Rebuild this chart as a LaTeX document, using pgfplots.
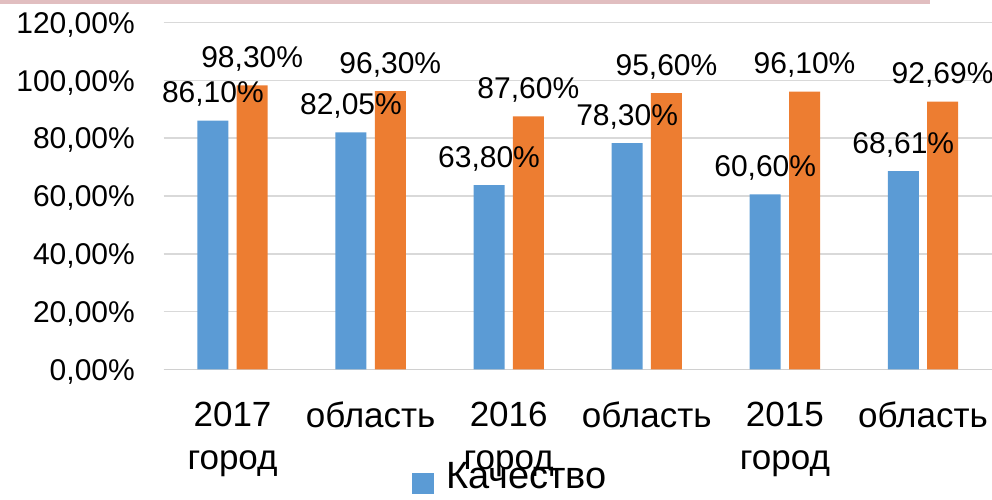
\documentclass[border=0pt]{standalone}
\usepackage{fontspec}
\setmainfont{Liberation Sans}
\usepackage{pgfplots}
\pgfplotsset{compat=1.18}
\definecolor{barblue}{RGB}{91,155,213}
\definecolor{barorange}{RGB}{237,125,49}
\definecolor{topbar}{RGB}{225,190,192}
\definecolor{gridgray}{RGB}{217,217,217}
\definecolor{axisgray}{RGB}{208,208,208}
\begin{document}
\begin{tikzpicture}
\path[use as bounding box] (0,0) rectangle (992bp,500bp);
\fill[topbar] (0,496bp) rectangle (930bp,500bp);
\begin{axis}[
  at={(163.5bp,130.7bp)}, anchor=south west,
  scale only axis, width=828.5bp, height=346.6bp,
  ybar=8.3bp, bar width=31bp,
  xmin=-0.5, xmax=5.5, ymin=0, ymax=120,
  xtick={0,1,2,3,4,5},
  xticklabels={{2017\\город},{область},{2016\\город},{область},{2015\\город},{область}},
  ytick={0,20,40,60,80,100,120},
  yticklabels={{0,00\%},{20,00\%},{40,00\%},{60,00\%},{80,00\%},{100,00\%},{120,00\%}},
  axis x line*=bottom, axis y line*=left,
  x axis line style={-, draw=axisgray, line width=1.5bp},
  y axis line style={draw=none},
  ymajorgrids, major grid style={draw=gridgray, line width=1.5bp},
  major tick length=0pt, tick style={draw=none},
  xticklabel style={font=\fontsize{35bp}{43bp}\selectfont, align=center, anchor=north, inner sep=0pt, yshift=-32.7bp},
  yticklabel style={font=\fontsize{30bp}{36bp}\selectfont, anchor=base east, inner sep=0pt, xshift=-28.5bp, yshift=-10.7bp},
  clip=false,
  nodes near coords={\pgfmathprintnumber[fixed,fixed zerofill,precision=2,use comma,assume math mode=true]{\pgfplotspointmeta}\%},
  every node near coord/.append style={font=\fontsize{30bp}{36bp}\selectfont, anchor=base, inner sep=0pt, yshift=18bp, text=black},
  legend style={at={(0.2999,-0.3107)}, anchor=west, draw=none, fill=none, inner sep=0pt, column sep=10bp, font=\fontsize{38bp}{42bp}\selectfont},
  legend image code/.code={\fill[barblue] (0bp,-17.5bp) rectangle (22bp,3.5bp);},
]
\addplot[fill=barblue, draw=none] coordinates {(0,86.10) (1,82.05) (2,63.80) (3,78.30) (4,60.60) (5,68.61)};
\addplot[fill=barorange, draw=none] coordinates {(0,98.30) (1,96.30) (2,87.60) (3,95.60) (4,96.10) (5,92.69)};
\legend{Качество}
\end{axis}
\end{tikzpicture}
\end{document}
